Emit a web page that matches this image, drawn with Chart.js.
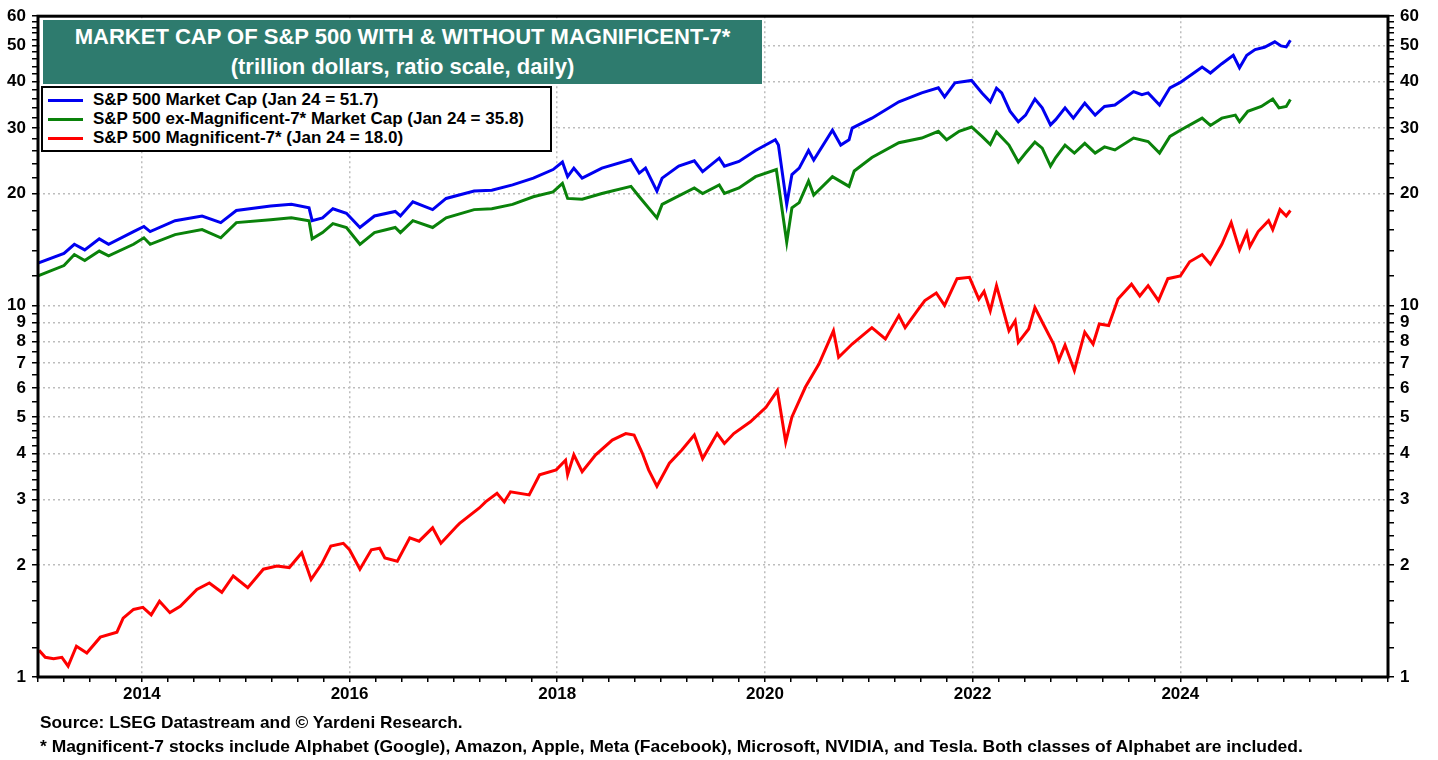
<!DOCTYPE html>
<html>
<head>
<meta charset="utf-8">
<title>Market Cap of S&amp;P 500 With &amp; Without Magnificent-7</title>
<script src="https://cdn.jsdelivr.net/npm/chart.js@4.4.1/dist/chart.umd.min.js"></script>
<style>
  html, body { margin: 0; padding: 0; background: #fff; }
  #wrap { position: relative; width: 1438px; height: 760px; font-family: "Liberation Sans", Arial, sans-serif; font-weight: bold; }
  #wrap canvas { position: absolute; left: 0; top: 0; }
  #titleBox { position: absolute; left: 43px; top: 20px; width: 719px; height: 64px; background: #2e7b6e; color: #fff; text-align: center; font-size: 22px; }
  #titleBox .l1 { position: absolute; left: 0; right: 0; top: 3px; line-height: 28px; }
  #titleBox .l2 { position: absolute; left: 0; right: 0; top: 33px; line-height: 28px; }
  #legendBox { position: absolute; left: 41px; top: 86px; width: 507px; height: 62px; border: 2px solid #000; background: #fff; font-size: 17px; color: #000; }
  .row { position: absolute; left: 0; height: 20px; line-height: 20px; }
  .row .swatch { position: absolute; left: 5px; top: 9px; width: 35px; height: 3px; }
  .row .txt { position: absolute; left: 50px; top: 0; white-space: nowrap; }
  .note { position: absolute; left: 40px; font-size: 17px; line-height: 20px; color: #000; white-space: nowrap; transform-origin: left center; }
</style>
</head>
<body>
<div id="wrap">
  <canvas id="chart" width="1438" height="760"></canvas>
  <div id="titleBox">
    <div class="l1">MARKET CAP OF S&amp;P 500 WITH &amp; WITHOUT MAGNIFICENT-7*</div>
    <div class="l2">(trillion dollars, ratio scale, daily)</div>
  </div>
  <div id="legendBox"></div>
  <div class="note" id="note1" style="top:713px">Source: LSEG Datastream and © Yardeni Research.</div>
  <div class="note" id="note2" style="top:737px">* Magnificent-7 stocks include Alphabet (Google), Amazon, Apple, Meta (Facebook), Microsoft, NVIDIA, and Tesla. Both classes of Alphabet are included.</div>
</div>
<script>
// S&P 500 market cap (trillion $)
const spxDates = [2013.00, 2013.25, 2013.35, 2013.45, 2013.59, 2013.68, 2013.92, 2014.02, 2014.08, 2014.32,
  2014.58, 2014.76, 2014.91, 2015.24, 2015.44, 2015.61, 2015.64, 2015.74, 2015.84, 2015.97,
  2016.10, 2016.24, 2016.44, 2016.49, 2016.61, 2016.80, 2016.93, 2017.20, 2017.37, 2017.57,
  2017.77, 2017.96, 2018.05, 2018.10, 2018.16, 2018.24, 2018.43, 2018.71, 2018.79, 2018.85,
  2018.96, 2019.01, 2019.17, 2019.32, 2019.40, 2019.56, 2019.61, 2019.75, 2019.91, 2020.10,
  2020.13, 2020.21, 2020.26, 2020.33, 2020.42, 2020.47, 2020.65, 2020.73, 2020.81, 2020.84,
  2021.03, 2021.29, 2021.51, 2021.67, 2021.73, 2021.83, 2021.99, 2022.09, 2022.17, 2022.23,
  2022.28, 2022.36, 2022.44, 2022.51, 2022.60, 2022.67, 2022.75, 2022.80, 2022.89, 2022.97,
  2023.08, 2023.18, 2023.27, 2023.37, 2023.55, 2023.63, 2023.69, 2023.80, 2023.90, 2024.00,
  2024.14, 2024.21, 2024.29, 2024.40, 2024.51, 2024.57, 2024.64, 2024.72, 2024.81, 2024.91,
  2024.97, 2025.02, 2025.06];
const spxCap = [13.0, 13.8, 14.6, 14.1, 15.1, 14.6, 15.8, 16.3, 15.8, 16.9,
  17.4, 16.7, 18.0, 18.5, 18.7, 18.3, 16.9, 17.2, 18.2, 17.7,
  16.2, 17.4, 17.9, 17.4, 19.0, 18.1, 19.4, 20.3, 20.4, 21.1,
  22.0, 23.2, 24.3, 22.2, 23.4, 22.0, 23.4, 24.7, 22.7, 23.4,
  20.3, 22.0, 23.7, 24.5, 22.9, 24.9, 23.7, 24.4, 26.1, 27.9,
  27.0, 18.7, 22.5, 23.4, 26.1, 24.6, 29.6, 27.0, 27.9, 30.0,
  31.9, 35.3, 37.3, 38.5, 36.4, 39.7, 40.3, 37.3, 35.3, 38.4,
  37.3, 33.3, 31.2, 32.5, 35.9, 34.0, 30.6, 31.6, 34.0, 31.9,
  35.0, 32.5, 34.3, 34.6, 37.6, 36.9, 37.3, 34.6, 38.5, 39.8,
  42.4, 43.8, 42.2, 44.7, 47.1, 43.6, 47.1, 48.8, 49.5, 51.2,
  49.9, 49.6, 51.7];

// S&P 500 ex-Magnificent-7 market cap
const exDates = [2013.00, 2013.25, 2013.35, 2013.45, 2013.59, 2013.68, 2013.92, 2014.02, 2014.08, 2014.32,
  2014.58, 2014.76, 2014.91, 2015.24, 2015.44, 2015.61, 2015.64, 2015.74, 2015.84, 2015.97,
  2016.10, 2016.24, 2016.44, 2016.49, 2016.61, 2016.80, 2016.93, 2017.20, 2017.37, 2017.57,
  2017.77, 2017.96, 2018.05, 2018.10, 2018.24, 2018.43, 2018.71, 2018.79, 2018.96, 2019.01,
  2019.32, 2019.40, 2019.56, 2019.61, 2019.75, 2019.91, 2020.11, 2020.21, 2020.26, 2020.33,
  2020.42, 2020.47, 2020.65, 2020.81, 2020.86, 2021.03, 2021.29, 2021.51, 2021.67, 2021.75,
  2021.87, 2021.99, 2022.09, 2022.17, 2022.23, 2022.35, 2022.44, 2022.51, 2022.60, 2022.67,
  2022.75, 2022.80, 2022.89, 2022.98, 2023.08, 2023.18, 2023.27, 2023.37, 2023.55, 2023.69,
  2023.80, 2023.90, 2024.00, 2024.21, 2024.29, 2024.40, 2024.53, 2024.57, 2024.65, 2024.78,
  2024.89, 2024.95, 2025.02, 2025.06];
const exCap = [12.0, 12.8, 13.7, 13.2, 14.0, 13.6, 14.6, 15.2, 14.6, 15.5,
  16.0, 15.2, 16.7, 17.0, 17.2, 16.9, 15.1, 15.7, 16.6, 16.2,
  14.6, 15.7, 16.2, 15.7, 16.9, 16.2, 17.2, 18.1, 18.2, 18.7,
  19.6, 20.2, 21.3, 19.4, 19.3, 20.0, 20.9, 19.6, 17.2, 18.7,
  20.7, 20.0, 21.1, 20.0, 20.7, 22.2, 23.2, 14.8, 18.3, 18.9,
  21.6, 19.8, 22.2, 20.9, 23.0, 25.0, 27.4, 28.2, 29.4, 27.9,
  29.4, 30.2, 28.5, 27.1, 29.3, 27.0, 24.3, 25.7, 27.5, 26.5,
  23.7, 25.0, 27.0, 25.7, 27.3, 25.7, 26.7, 26.2, 28.2, 27.6,
  25.7, 28.5, 29.6, 31.9, 30.5, 31.9, 32.5, 31.2, 33.3, 34.3,
  35.9, 34.0, 34.3, 35.8];

// Magnificent-7 market cap
const magDates = [2013.01, 2013.07, 2013.15, 2013.23, 2013.29, 2013.37, 2013.47, 2013.60, 2013.76, 2013.82,
  2013.92, 2014.01, 2014.09, 2014.17, 2014.27, 2014.37, 2014.53, 2014.65, 2014.77, 2014.88,
  2015.02, 2015.17, 2015.30, 2015.42, 2015.54, 2015.63, 2015.73, 2015.82, 2015.94, 2016.00,
  2016.10, 2016.21, 2016.29, 2016.34, 2016.46, 2016.58, 2016.67, 2016.80, 2016.88, 2017.03,
  2017.06, 2017.25, 2017.31, 2017.42, 2017.49, 2017.55, 2017.73, 2017.83, 2017.99, 2018.08,
  2018.10, 2018.16, 2018.24, 2018.37, 2018.53, 2018.66, 2018.74, 2018.82, 2018.88, 2018.96,
  2019.08, 2019.20, 2019.32, 2019.40, 2019.54, 2019.61, 2019.70, 2019.86, 2020.01, 2020.12,
  2020.20, 2020.26, 2020.39, 2020.52, 2020.66, 2020.71, 2020.84, 2021.03, 2021.16, 2021.29,
  2021.35, 2021.48, 2021.54, 2021.65, 2021.73, 2021.85, 2021.97, 2022.06, 2022.11, 2022.17,
  2022.23, 2022.35, 2022.41, 2022.44, 2022.54, 2022.60, 2022.68, 2022.78, 2022.83, 2022.89,
  2022.98, 2023.08, 2023.16, 2023.22, 2023.31, 2023.40, 2023.53, 2023.61, 2023.69, 2023.79,
  2023.88, 2024.00, 2024.09, 2024.21, 2024.29, 2024.40, 2024.49, 2024.57, 2024.64, 2024.67,
  2024.75, 2024.85, 2024.89, 2024.96, 2025.02, 2025.06];
const magCap = [1.18, 1.13, 1.12, 1.13, 1.07, 1.21, 1.16, 1.28, 1.32, 1.44,
  1.52, 1.54, 1.47, 1.60, 1.49, 1.55, 1.72, 1.79, 1.69, 1.87,
  1.74, 1.95, 1.99, 1.97, 2.16, 1.83, 2.01, 2.25, 2.29, 2.20,
  1.95, 2.20, 2.22, 2.09, 2.05, 2.37, 2.32, 2.52, 2.29, 2.54,
  2.59, 2.85, 2.96, 3.12, 2.96, 3.15, 3.09, 3.50, 3.61, 3.83,
  3.50, 3.96, 3.57, 3.96, 4.34, 4.52, 4.48, 4.00, 3.61, 3.26,
  3.76, 4.08, 4.48, 3.87, 4.52, 4.25, 4.52, 4.86, 5.32, 5.90,
  4.29, 5.01, 6.03, 6.95, 8.54, 7.25, 7.87, 8.71, 8.12, 9.39,
  8.71, 9.78, 10.3, 10.8, 10.0, 11.8, 11.9, 10.4, 10.9, 9.67,
  11.3, 8.54, 9.09, 7.95, 8.64, 9.87, 8.91, 7.87, 7.11, 7.82,
  6.68, 8.47, 7.87, 8.91, 8.83, 10.4, 11.4, 10.6, 11.3, 10.3,
  11.8, 12.0, 13.1, 13.7, 12.9, 14.6, 16.7, 14.1, 15.7, 14.4,
  15.8, 16.9, 16.0, 18.1, 17.4, 18.0];

// axis ticks
const yearLabels = [2014, 2016, 2018, 2020, 2022, 2024];
const yLabels = [1, 2, 3, 4, 5, 6, 7, 8, 9, 10, 20, 30, 40, 50, 60];
const yMinor = [1.2, 1.4, 1.6, 1.8, 2.2, 2.4, 2.6, 2.8, 3.2, 3.4, 3.6, 3.8, 4.2, 4.4, 4.6, 4.8,
  5.5, 6.5, 7.5, 8.5, 9.5, 12, 14, 16, 18, 22, 24, 26, 28, 32, 34, 36, 38, 42, 44, 46, 48, 52, 54, 56, 58];
const yGrid = [2, 3, 4, 5, 6, 7, 8, 9, 10, 20, 30, 40, 50];

const seriesNames = [
    'S&P 500 Market Cap (Jan 24 = 51.7)',
    'S&P 500 ex-Magnificent-7* Market Cap (Jan 24 = 35.8)',
    'S&P 500 Magnificent-7* (Jan 24 = 18.0)'
];
const seriesColors = ['#0000f0', '#0a820a', '#ff0000'];

const FONT = '"Liberation Sans", Arial, sans-serif';
const GRID_COLOR = '#bdbdbd';
const NONE = 'rgba(0,0,0,0)';

function toPoints(xs, ys) {
    return xs.map((x, i) => ({ x: x, y: ys[i] }));
}

// HTML legend box
const legendBox = document.getElementById('legendBox');
seriesNames.forEach((name, i) => {
    const row = document.createElement('div');
    row.className = 'row';
    row.style.top = (2 + i * 19) + 'px';
    row.innerHTML = '<div class="swatch" style="background:' + seriesColors[i] + '"></div><div class="txt"></div>';
    row.querySelector('.txt').textContent = name;
    legendBox.appendChild(row);
});

// squeeze footnotes to the reference widths
[['note1', 423], ['note2', 1263]].forEach(([id, w]) => {
    const el = document.getElementById(id);
    el.style.transform = 'scaleX(' + (w / el.offsetWidth) + ')';
});

// thick frame round the plot area
const framePlugin = {
    id: 'frame',
    afterDraw(chart) {
        const { ctx, chartArea: a } = chart;
        ctx.save();
        ctx.strokeStyle = '#000';
        ctx.lineWidth = 3;
        ctx.strokeRect(a.left, a.top, a.right - a.left, a.bottom - a.top);
        ctx.restore();
    }
};

const yTickList = yLabels.concat(yMinor).sort((a, b) => a - b);

function yScale(position, width, onChart) {
    return {
        type: 'logarithmic',
        position: position,
        min: 1,
        max: 60,
        afterBuildTicks: s => { s.ticks = yTickList.map(v => ({ value: v })); },
        afterFit: s => { s.width = width; },
        ticks: {
            autoSkip: false,
            padding: 6,
            color: '#000',
            font: { family: FONT, size: 17, weight: 'bold' },
            callback: v => yLabels.includes(v) ? String(v) : ''
        },
        grid: {
            drawOnChartArea: onChart,
            color: c => (c.tick && yGrid.includes(c.tick.value)) ? GRID_COLOR : NONE,
            lineWidth: 1.5,
            tickColor: '#000',
            tickLength: 6,
            tickWidth: 1.5,
            tickBorderDash: []
        },
        border: { display: false, dash: [2, 3] }
    };
}

new Chart(document.getElementById('chart'), {
    type: 'line',
    data: {
        datasets: [
            { label: seriesNames[0], data: toPoints(spxDates, spxCap), borderColor: seriesColors[0] },
            { label: seriesNames[1], data: toPoints(exDates, exCap), borderColor: seriesColors[1] },
            { label: seriesNames[2], data: toPoints(magDates, magCap), borderColor: seriesColors[2] }
        ]
    },
    options: {
        responsive: false,
        animation: false,
        devicePixelRatio: 1,
        layout: { padding: { top: 15, left: 0, right: 0, bottom: 0 } },
        elements: {
            line: { borderWidth: 3, tension: 0 },
            point: { radius: 0 }
        },
        plugins: {
            legend: { display: false },
            tooltip: { enabled: false }
        },
        scales: {
            x: {
                type: 'linear',
                min: 2013,
                max: 2026,
                afterBuildTicks: s => {
                    const t = [];
                    for (let q = 0; q <= 52; q++) t.push({ value: 2013 + q / 4 });
                    s.ticks = t;
                },
                afterFit: s => { s.height = 83; },
                ticks: {
                    autoSkip: false,
                    maxRotation: 0,
                    padding: 2,
                    color: '#000',
                    font: { family: FONT, size: 17, weight: 'bold' },
                    callback: v => yearLabels.includes(v) ? String(v) : ''
                },
                grid: {
                    color: c => (c.tick && yearLabels.includes(c.tick.value)) ? GRID_COLOR : NONE,
                    lineWidth: 1.5,
                    tickColor: '#000',
                    tickLength: 5,
                    tickWidth: 1.5,
                    tickBorderDash: []
                },
                border: { display: false, dash: [2, 3] }
            },
            y: yScale('left', 38, true),
            y2: yScale('right', 50, false)
        }
    },
    plugins: [framePlugin]
});
</script>
</body>
</html>
